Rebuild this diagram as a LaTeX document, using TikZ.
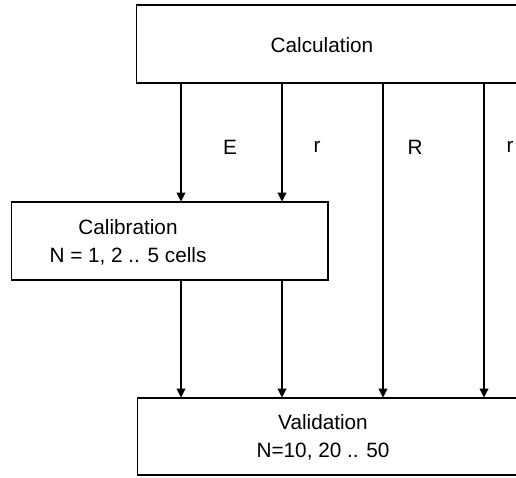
\documentclass[tikz,border=0pt]{standalone}
\usepackage{fontspec}
\setmainfont{Liberation Sans}
\usetikzlibrary{arrows.meta}

\tikzset{
  boite/.style={draw, line width=0.6pt, inner sep=0pt},
  fleche/.style={line width=0.6pt, -{Triangle[length=5pt,width=5pt]}},
  texte/.style={font=\fontsize{11.8}{16}\selectfont, align=center, inner sep=0pt},
}

\begin{document}
\begin{tikzpicture}[x=0.02cm,y=-0.02cm]

\useasboundingbox (0,0) rectangle (516,477) ;
\clip (0,0) rectangle (516,477) ;

% boîtes

\node[boite, minimum width=7.88cm, minimum height=1.56cm] (calc) at (333,44) {} ;
\node[boite, minimum width=6.34cm, minimum height=1.56cm] (calib) at (169.5,241) {} ;
\node[boite, minimum width=7.86cm, minimum height=1.54cm] (valid) at (333.5,436.5) {} ;

\node[texte] (t_calc) at (322,45) {Calculation} ;
\node[texte] (t_calib) at (128,242) {Calibration\\N = 1, 2 .. 5 cells} ;
\node[texte] (t_valid) at (323,437) {Validation\\N=10, 20 .. 50} ;

% abscisses des flèches

\coordinate (x_E) at (181,0) ;
\coordinate (x_r) at (282,0) ;
\coordinate (x_R) at (383,0) ;
\coordinate (x_rr) at (484,0) ;

% flèches

\draw[fleche] (x_E |- calc.south) -- (x_E |- calib.north) ;
\draw[fleche] (x_r |- calc.south) -- (x_r |- calib.north) ;
\draw[fleche] (x_E |- calib.south) -- (x_E |- valid.north) ;
\draw[fleche] (x_r |- calib.south) -- (x_r |- valid.north) ;
\draw[fleche] (x_R |- calc.south) -- (x_R |- valid.north) ;
\draw[fleche] (x_rr |- calc.south) -- (x_rr |- valid.north) ;

% étiquettes

\node[texte] (l_E) at (230,147) {E} ;
\node[texte] (l_r) at (317,147) {r} ;
\node[texte] (l_R) at (415,147) {R} ;
\node[texte] (l_rr) at (510,147) {r} ;

\end{tikzpicture}
\end{document}
